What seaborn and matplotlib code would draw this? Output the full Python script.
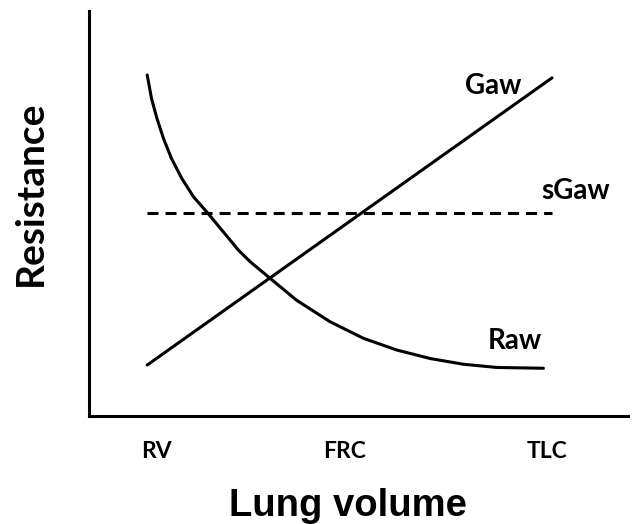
import numpy as np
import pandas as pd
import matplotlib
matplotlib.use("Agg")
import matplotlib.pyplot as plt
import seaborn as sns

# Schematic lung volume vs resistance curves
raw_x = [1.08, 1.16, 1.26, 1.38, 1.53, 1.72, 1.94, 2.21, 2.49, 2.77,
         2.99, 3.36, 3.85, 4.47, 5.09, 5.71, 6.33, 6.94, 7.56, 8.43]
raw_y = [8.42, 7.84, 7.35, 6.86, 6.36, 5.87, 5.41, 5.00, 4.55, 4.10,
         3.81, 3.40, 2.86, 2.33, 1.92, 1.63, 1.42, 1.28, 1.20, 1.18]
gaw_x = [1.08, 8.59]
gaw_y = [1.26, 8.35]
sgaw_x = [1.08, 8.59]
sgaw_y = [5.01, 5.01]

tick_pos = [1.26, 4.75, 8.50]
tick_labels = ["RV", "FRC", "TLC"]

# seaborn's white style greys out the text, the original is plain black
sns.set_style("white", {"text.color": "black", "axes.labelcolor": "black",
                        "xtick.color": "black", "ytick.color": "black"})

fig = plt.figure(figsize=(6.32, 5.24), dpi=100)
ax = fig.add_axes([0.1408, 0.206, 0.853, 0.773])

raw = pd.DataFrame({"volume": raw_x, "resistance": raw_y})
gaw = pd.DataFrame({"volume": gaw_x, "resistance": gaw_y})
sgaw = pd.DataFrame({"volume": sgaw_x, "resistance": sgaw_y})

sns.lineplot(data=raw, x="volume", y="resistance", ax=ax, color="black", lw=2.2,
             sort=False, solid_joinstyle="round")
sns.lineplot(data=gaw, x="volume", y="resistance", ax=ax, color="black", lw=2.2)
sns.lineplot(data=sgaw, x="volume", y="resistance", ax=ax, color="black", lw=2.2,
             linestyle=(0, (3.6, 2.3)))

ax.set_xlim(0, 10)
ax.set_ylim(0, 10)

for side in ["top", "right"]:
    ax.spines[side].set_visible(False)
for side in ["left", "bottom"]:
    ax.spines[side].set_color("black")
    ax.spines[side].set_linewidth(2.2)

lab_font = dict(family="Lato", weight="bold", fontsize=20, color="black")
ax.text(7.50, 8.14, "Gaw", ha="center", va="center", **lab_font)
ax.text(9.02, 5.56, "sGaw", ha="center", va="center", **lab_font)
ax.text(7.90, 1.86, "Raw", ha="center", va="center", **lab_font)

ax.set_xticks(tick_pos)
ax.set_xticklabels(tick_labels, family="Lato", weight="bold", fontsize=16.5, color="black")
ax.set_yticks([])
ax.tick_params(axis="x", length=0, pad=18)

ax.set_xlabel("Lung volume", family="Liberation Sans", weight="bold", fontsize=27.5,
              va="center", color="black")
ax.set_ylabel("Resistance", family="Lato", weight="bold", fontsize=28,
              va="center", color="black")
ax.xaxis.set_label_coords(0.4805, -0.222)
ax.yaxis.set_label_coords(-0.109, 0.551)

fig.savefig("out.png", dpi=100)
